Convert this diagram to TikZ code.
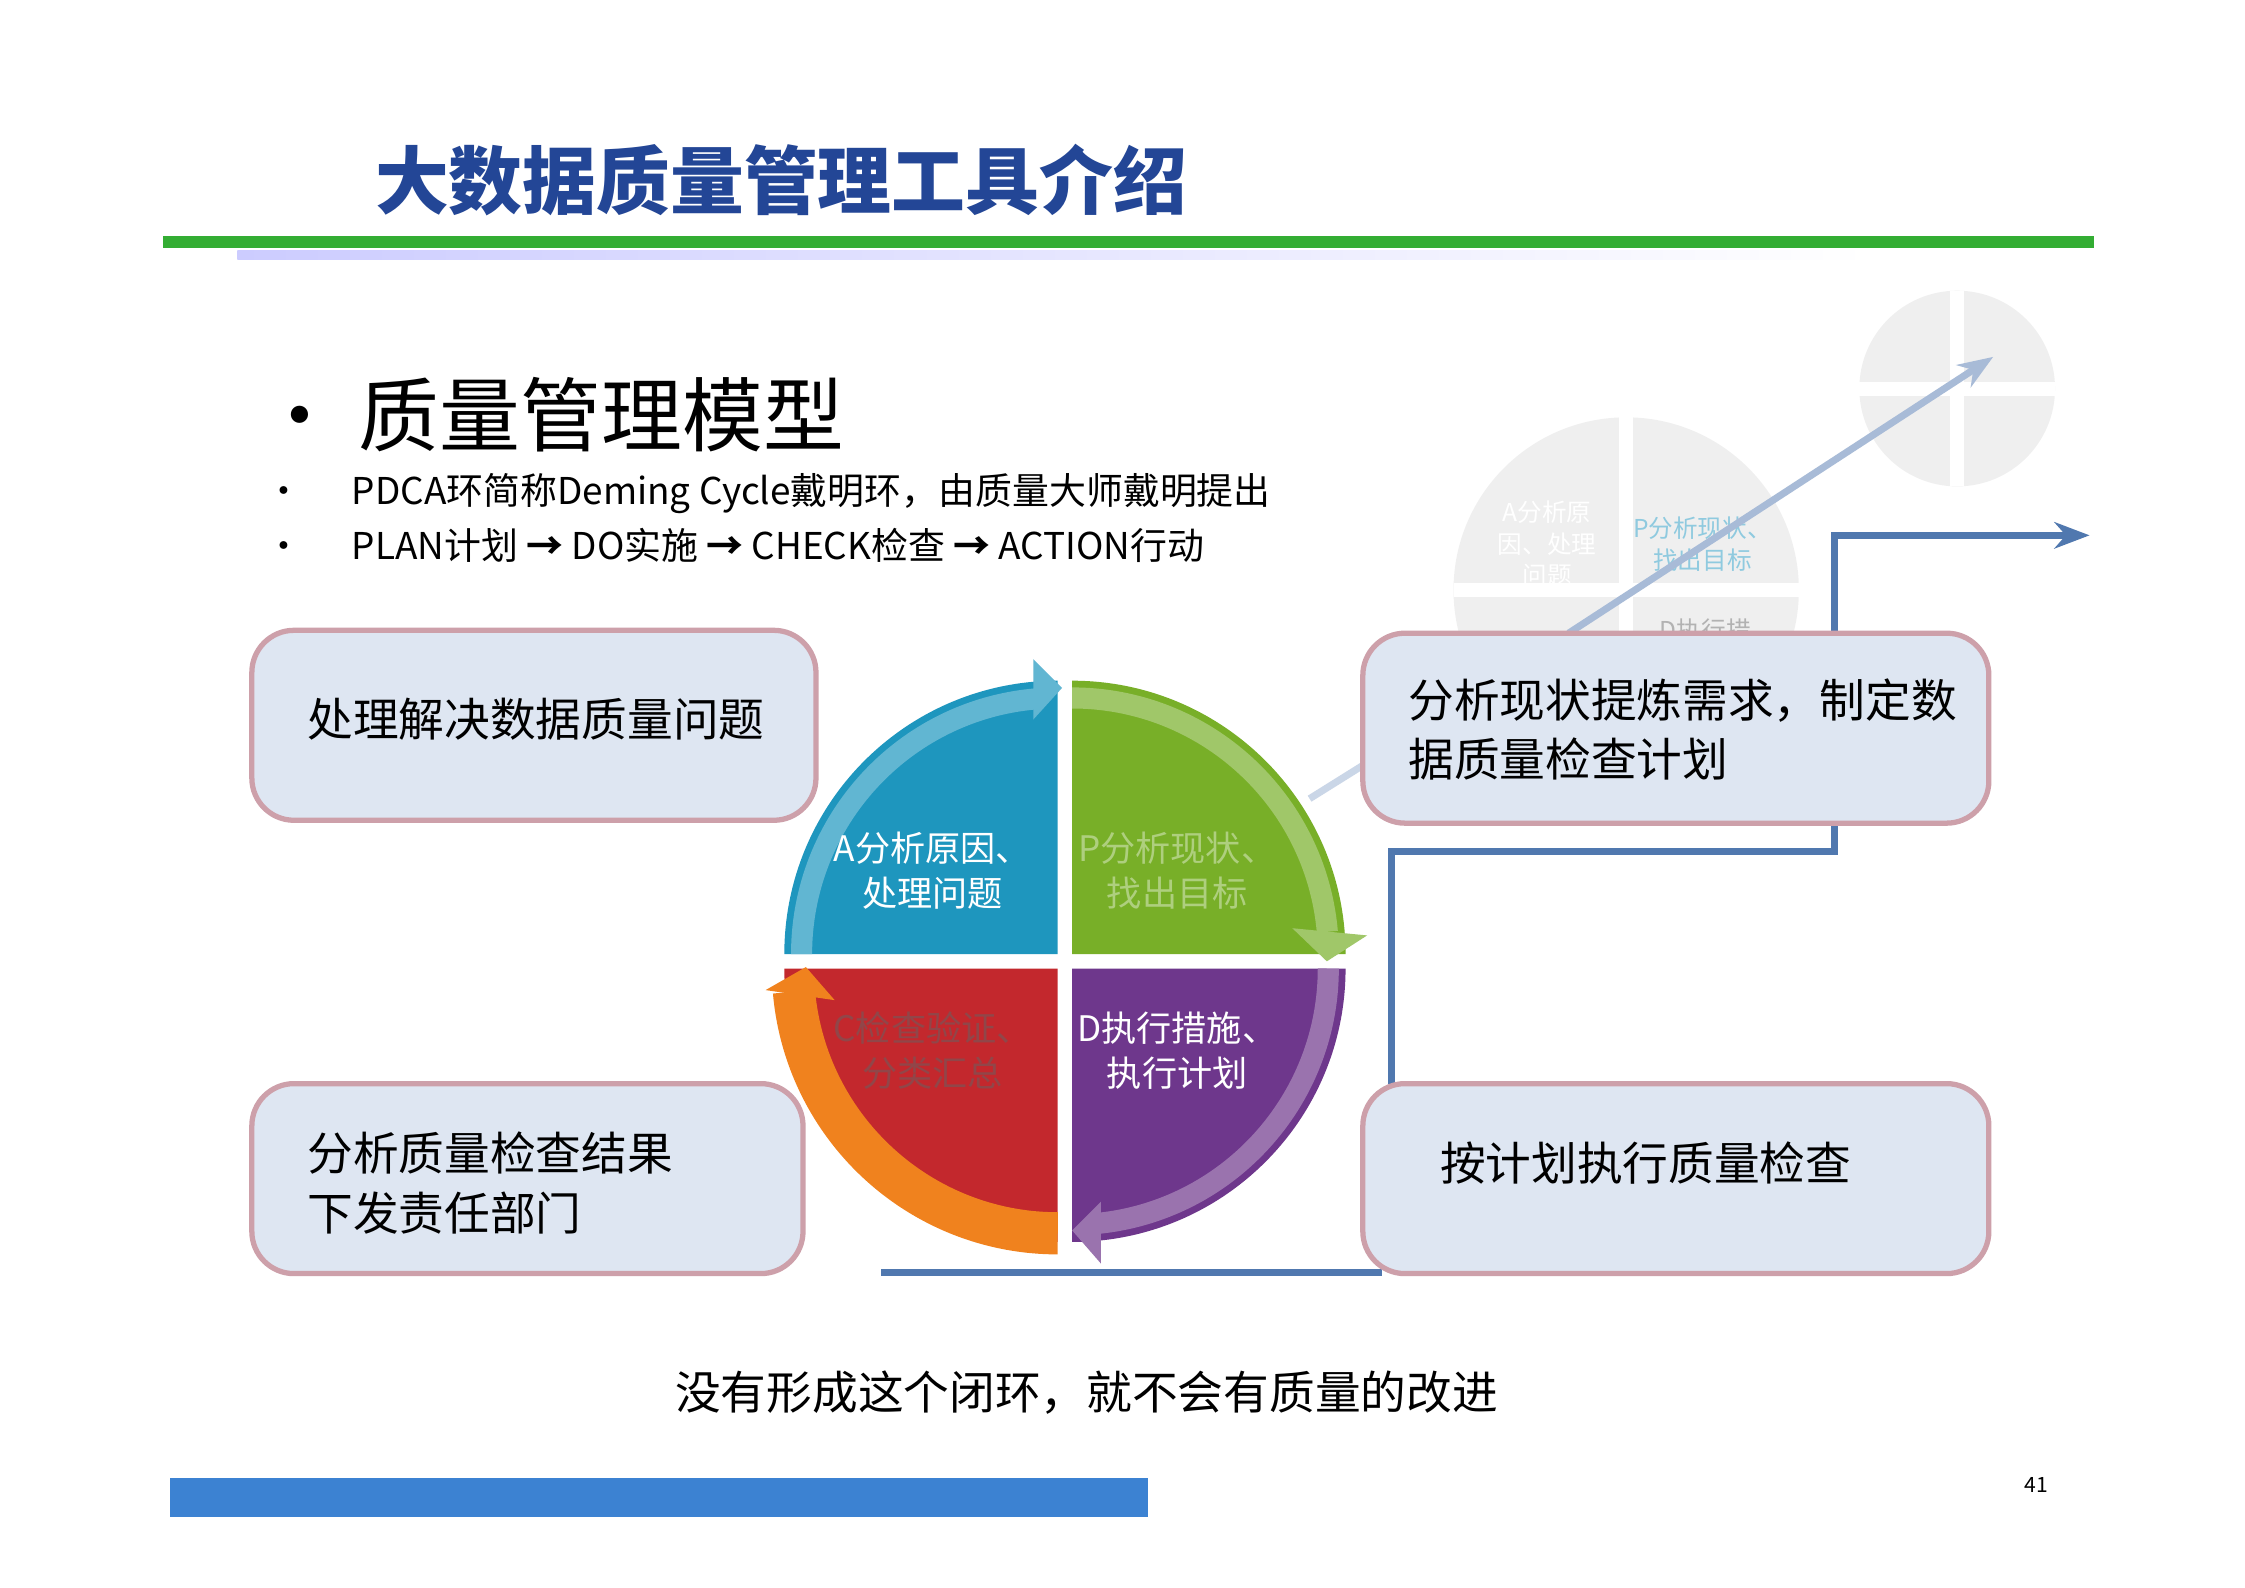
\documentclass[tikz,border=0pt]{standalone}
\usepackage{fontspec}
\setmainfont{Noto Sans CJK SC}
\usetikzlibrary{arrows.meta}
\definecolor{titleblue}{RGB}{35,70,150}
\definecolor{boxfill}{RGB}{222,230,242}
\definecolor{boxline}{RGB}{205,160,170}
\definecolor{flowline}{RGB}{80,120,175}
\definecolor{qblue}{RGB}{30,150,190}
\definecolor{qgreen}{RGB}{120,175,40}
\definecolor{qred}{RGB}{195,40,45}
\definecolor{qpurple}{RGB}{110,55,140}
\definecolor{qorange}{RGB}{240,130,30}
\definecolor{barblue}{RGB}{60,130,210}
\tikzset{infobox/.style={draw=boxline,line width=1.5pt,fill=boxfill,rounded corners=12pt},
 boxtext/.style={font=\fontsize{13pt}{17pt}\selectfont,align=left,anchor=west},
 qtext/.style={font=\fontsize{10pt}{13pt}\selectfont,align=center},
 flow/.style={draw=flowline,line width=2pt}}
\begin{document}
\begin{tikzpicture}[x=0.01439cm,y=-0.01439cm]
\useasboundingbox (0,0) rectangle (1560,1103);
\fill[white] (0,0) rectangle (1560,1103);
% title
\node[font=\fontsize{21pt}{24pt}\selectfont\bfseries,text=titleblue,anchor=west] (title) at (252,125) {大数据质量管理工具介绍};
\fill[green!60!black!80] (113,164) rectangle (1455,172);
\shade[left color=blue!20,right color=white] (165,174) rectangle (1300,180);
% bullets
\node[font=\fontsize{23pt}{26pt}\selectfont,anchor=west] (h) at (172,288) {• 质量管理模型};
\node[font=\fontsize{10.5pt}{13pt}\selectfont,anchor=west] (b1) at (176,343) {•\hspace{14pt}PDCA环简称Deming Cycle戴明环，由质量大师戴明提出};
\node[font=\fontsize{10.5pt}{13pt}\selectfont,anchor=west] (b2) at (176,379) {•\hspace{14pt}PLAN计划 \textbf{→} DO实施 \textbf{→} CHECK检查 \textbf{→} ACTION行动};
% faded mini diagram
\begin{scope}[opacity=0.12]
\fill[gray] (1130,410) circle (120);
\fill[gray] (1360,270) circle (68);
\end{scope}
\draw[white,line width=4pt] (1010,410)--(1250,410) (1130,290)--(1130,530) (1292,270)--(1428,270) (1360,202)--(1360,338);
\node[qtext,text=qblue!50,font=\fontsize{7pt}{9pt}\selectfont] (fp) at (1183,378) {P分析现状、\\找出目标};
\node[qtext,text=white,font=\fontsize{7pt}{9pt}\selectfont] (fa) at (1075,378) {A分析原\\因、处理\\问题};
\node[qtext,text=gray!60,font=\fontsize{7pt}{9pt}\selectfont] (fd) at (1185,438) {D执行措};
\draw[-{Stealth[length=10pt]},draw=flowline!50,line width=2pt] (1090,440)--(1385,248);
\draw[flowline!30,line width=2pt] (910,555)--(950,530);
% flow lines
\coordinate (e1) at (1452,372);
\draw[flow,-{Stealth[length=10pt]}] (1275,440)--(1275,372)--(e1);
\draw[flow] (1275,572)--(1275,592)--(967,592)--(967,753);
\draw[flow] (960,884)--(612,884);
% PDCA circle
\fill[qblue] (735,663) -- (545,663) arc[start angle=180,end angle=270,radius=190] -- cycle;
\fill[qgreen] (745,663) -- (745,473) arc[start angle=270,end angle=360,radius=190] -- cycle;
\fill[qred] (735,673) -- (735,863) arc[start angle=90,end angle=180,radius=190] -- cycle;
\fill[qpurple] (745,673) -- (935,673) arc[start angle=0,end angle=90,radius=190] -- cycle;
\draw[qblue!70!white,line width=6pt] (557,663) arc[start angle=180,end angle=265,radius=178];
\fill[qblue!70!white] (718,458)--(738,478)--(718,500)--cycle;
\draw[qgreen!70!white,line width=6pt] (745,485) arc[start angle=270,end angle=355,radius=178];
\fill[qgreen!70!white] (898,645)--(950,650)--(922,668)--cycle;
\draw[qpurple!70!white,line width=6pt] (923,673) arc[start angle=0,end angle=85,radius=178];
\fill[qpurple!70!white] (765,835)--(745,855)--(765,878)--cycle;
\draw[qorange,line width=12pt] (735,857) arc[start angle=90,end angle=175,radius=184];
\fill[qorange] (532,688)--(560,672)--(580,695)--cycle;
\node[qtext,text=white] (qa) at (648,605) {A分析原因、\\处理问题};
\node[qtext,text=qgreen!60!white] (qp) at (818,605) {P分析现状、\\找出目标};
\node[qtext,text=qred!60!black!80] (qc) at (648,730) {C检查验证、\\分类汇总};
\node[qtext,text=white] (qd) at (818,730) {D执行措施、\\执行计划};
% boxes
\draw[infobox] (175,438) rectangle (567,570);
\node[boxtext] (t1) at (205,500) {处理解决数据质量问题};
\draw[infobox] (947,440) rectangle (1382,572);
\node[boxtext] (t2) at (970,507) {分析现状提炼需求，制定数\\据质量检查计划};
\draw[infobox] (175,753) rectangle (558,885);
\node[boxtext] (t3) at (205,822) {分析质量检查结果\\下发责任部门};
\draw[infobox] (947,753) rectangle (1382,885);
\node[boxtext] (t4) at (992,808) {按计划执行质量检查};
% bottom
\node[font=\fontsize{13pt}{16pt}\selectfont] (bt) at (755,968) {没有形成这个闭环，就不会有质量的改进};
\fill[barblue] (118,1027) rectangle (798,1054);
\node[font=\fontsize{6pt}{8pt}\selectfont] (pg) at (1415,1032) {41};
\end{tikzpicture}
\end{document}
